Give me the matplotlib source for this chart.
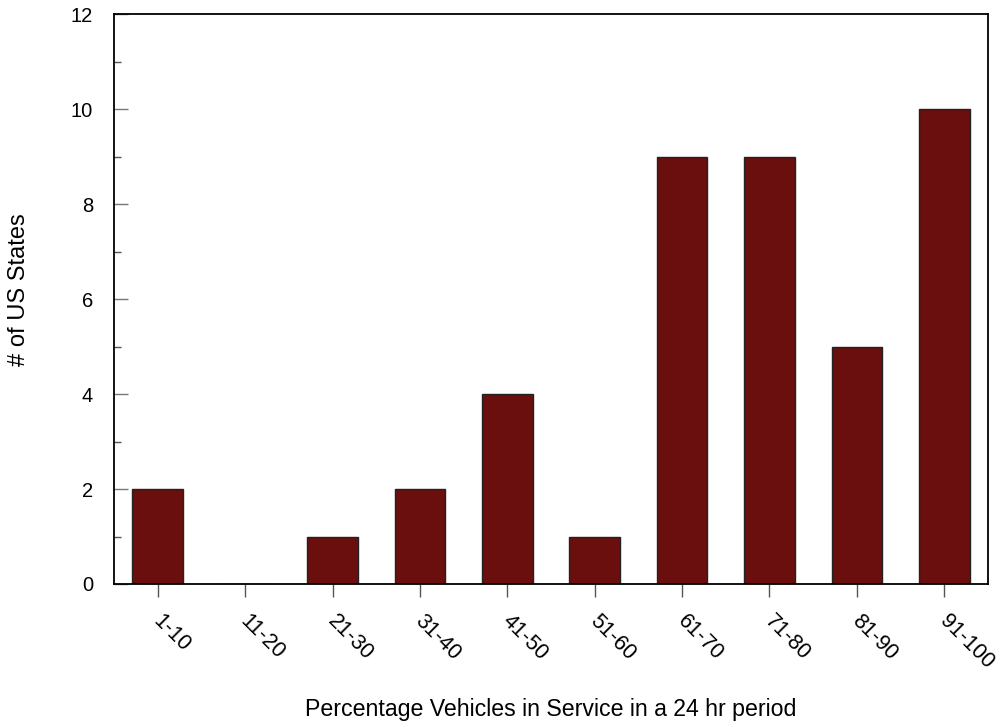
import numpy as np
import matplotlib.pyplot as plt
import matplotlib.transforms as mtransforms
from matplotlib.ticker import MultipleLocator

plt.rcParams['font.family'] = ['Liberation Sans', 'DejaVu Sans']

# Data
ranges = ['1-10', '11-20', '21-30', '31-40', '41-50',
          '51-60', '61-70', '71-80', '81-90', '91-100']
num_states = [2, 0, 1, 2, 4, 1, 9, 9, 5, 10]

fig = plt.figure(figsize=(10.01, 7.27), dpi=100)
ax = fig.add_axes([0.1139, 0.1967, 0.8731, 0.784])

x = np.arange(len(ranges))
ax.bar(x, num_states, width=0.58, color='#6B0E0E', edgecolor='#222222', linewidth=1.0)

ax.set_xlim(-0.5, len(ranges) - 0.5)
ax.set_ylim(0, 12)
ax.yaxis.set_major_locator(MultipleLocator(2))
ax.yaxis.set_minor_locator(MultipleLocator(1))

ax.set_xticks(x)
ax.set_xticklabels(ranges, rotation=-45, ha='left', va='top', fontsize=15.5)
ax.tick_params(axis='x', direction='out', length=9.5, width=1, color='#555555', pad=8)
ax.tick_params(axis='y', which='major', direction='in', length=10, width=1,
               color='#777777', labelsize=14.5, pad=15)
ax.tick_params(axis='y', which='minor', direction='in', length=5, width=1, color='#555555')

# nudge rotated labels so they start just left of the tick
shift = mtransforms.ScaledTranslation(-9 / 100, -2 / 100, fig.dpi_scale_trans)
for lbl in ax.get_xticklabels():
    lbl.set_transform(lbl.get_transform() + shift)

for s in ax.spines.values():
    s.set_linewidth(1.3)
    s.set_color('black')

ax.set_ylabel('# of US States', fontsize=17)
ax.set_xlabel('Percentage Vehicles in Service in a 24 hr period', fontsize=16.7)
ax.xaxis.set_label_coords(0.5, -0.2)
ax.yaxis.set_label_coords(-0.096, 0.516)

fig.savefig('out.png', dpi=100)
